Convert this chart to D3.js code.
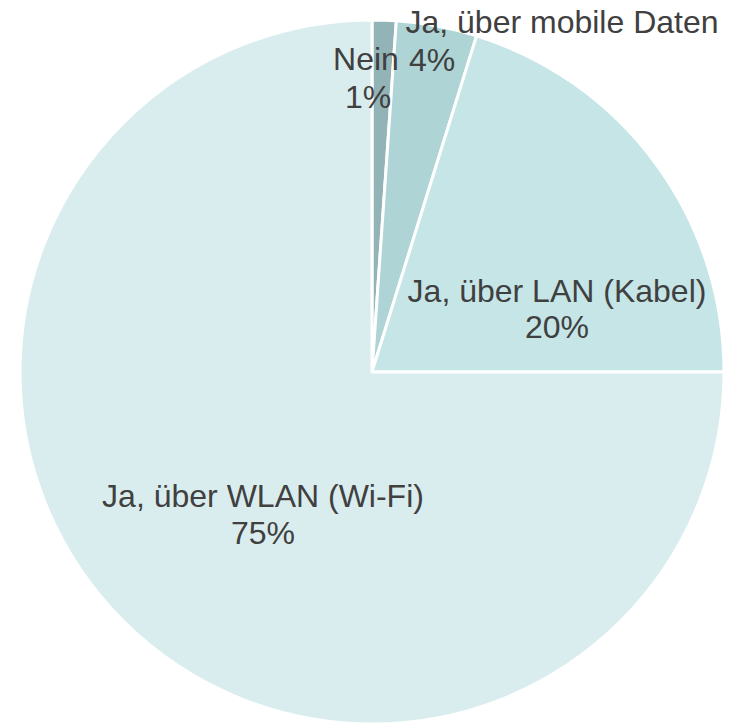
<!DOCTYPE html>
<html><head><meta charset="utf-8">
<script src="https://cdn.jsdelivr.net/npm/d3@7"></script>
<style>html,body{margin:0;padding:0;background:#fff;}svg{display:block;}</style>
</head><body>
<svg id="c" width="731" height="724"></svg>
<script>
// Data
const categories = ["Nein", "Ja, über mobile Daten", "Ja, über LAN (Kabel)", "Ja, über WLAN (Wi-Fi)"];
const values = [1.1, 3.7, 20.2, 75.0];
const percentLabels = ["1%", "4%", "20%", "75%"];
const colors = ["#93b4b7", "#aed4d6", "#c5e5e6", "#daedee"];

const W = 731, H = 724;
const cx = 372, cy = 372, R = 352;
const fontSize = 32;

// label anchors (relative to centre)
const labelLayout = [
  {x1: -6, y1: -302, x2: -4, y2: -264},
  {x1: 190, y1: -339, x2: 60, y2: -301},
  {x1: 185, y1: -70, x2: 185, y2: -34},
  {x1: -109, y1: 135, x2: -109, y2: 172}
];

const svg = d3.select("#c");
const g = svg.append("g").attr("transform", `translate(${cx},${cy})`);

const pie = d3.pie().sort(null).value(d => d)(values);
const arc = d3.arc().innerRadius(0).outerRadius(R);

g.selectAll("path.slice").data(pie).join("path")
  .attr("class", "slice")
  .attr("d", arc)
  .attr("fill", (d, i) => colors[i])
  .attr("stroke", "#ffffff")
  .attr("stroke-width", 3)
  .attr("stroke-linejoin", "miter");

const lab = g.selectAll("g.lab").data(pie).join("g").attr("class", "lab");
lab.append("text")
  .attr("x", (d, i) => labelLayout[i].x1)
  .attr("y", (d, i) => labelLayout[i].y1)
  .attr("text-anchor", "middle")
  .style("font-family", "'Liberation Sans', Arial, sans-serif")
  .attr("font-size", fontSize)
  .attr("fill", "#404040")
  .text((d, i) => categories[i]);
lab.append("text")
  .attr("x", (d, i) => labelLayout[i].x2)
  .attr("y", (d, i) => labelLayout[i].y2)
  .attr("text-anchor", "middle")
  .style("font-family", "'Liberation Sans', Arial, sans-serif")
  .attr("font-size", fontSize)
  .attr("fill", "#404040")
  .text((d, i) => percentLabels[i]);
</script>
</body></html>
